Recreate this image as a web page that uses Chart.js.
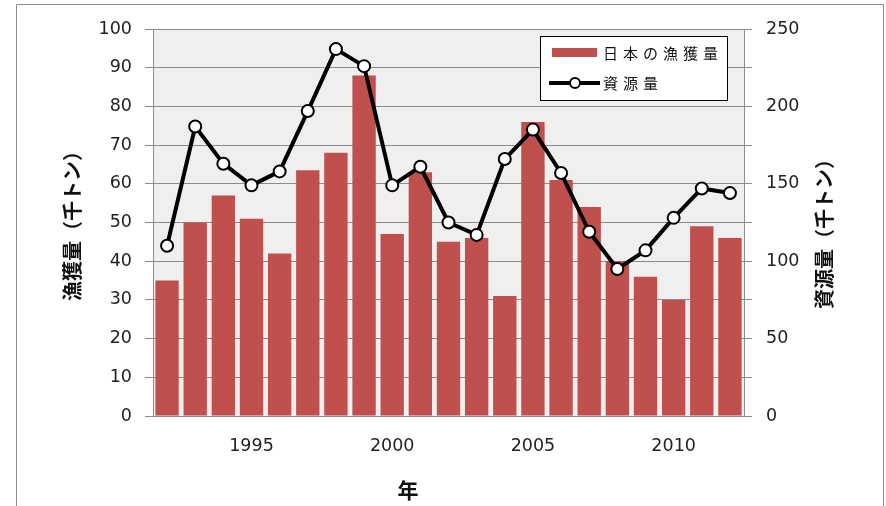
<!DOCTYPE html>
<html>
<head>
<meta charset="utf-8">
<script src="https://cdn.jsdelivr.net/npm/chart.js@4/dist/chart.umd.min.js"></script>
<style>
html,body{margin:0;padding:0;background:#fff;}
#wrap{width:886px;height:506px;position:relative;}
</style>
</head>
<body>
<div id="wrap"><canvas id="c" width="886" height="506"></canvas></div>
<script>
const years = [1992,1993,1994,1995,1996,1997,1998,1999,2000,2001,2002,2003,2004,2005,2006,2007,2008,2009,2010,2011,2012];
const catchJapan = [35,50,57,51,42,63.5,68,88,47,63,45,46,31,76,61,54,40,36,30,49,46];
const stockSize = [110,187,163,149,158,197,237,226,149,161,125,117,166,185,157,119,95,107,128,147,144];
const leftTicks = [0,10,20,30,40,50,60,70,80,90,100];
const rightTicks = [0,50,100,150,200,250];
const xLabelYears = [1995,2000,2005,2010];
const seriesNames = ['日本の漁獲量','資源量'];
const leftTitle = '漁獲量（千トン）';
const rightTitle = '資源量（千トン）';
const xTitle = '年';

const BAR = '#c0504d';
const GRID = '#8c8c8c';
const TICKFONT = {family:'"DejaVu Sans", sans-serif', size:17.5};
const CJK = '"Noto Sans CJK JP", "Noto Sans", sans-serif';

const decor = {
  id:'decor',
  beforeDraw(chart){
    const {ctx, chartArea:a} = chart;
    ctx.save();
    ctx.fillStyle = '#efefef';
    ctx.fillRect(a.left, a.top, a.right-a.left, a.bottom-a.top);
    ctx.restore();
  },
  afterDraw(chart){
    const {ctx} = chart;
    ctx.save();
    ctx.strokeStyle = '#8c8c8c';
    ctx.lineWidth = 1;
    ctx.beginPath();
    ctx.moveTo(16.5, 520); ctx.lineTo(16.5, 4.5); ctx.lineTo(883.5, 4.5); ctx.lineTo(883.5, 520);
    ctx.stroke();
    ctx.fillStyle = '#111';
    ctx.textAlign = 'center';
    ctx.textBaseline = 'middle';
    ctx.font = 'bold 20px ' + CJK;
    ctx.save(); ctx.translate(72, 221); ctx.rotate(-Math.PI/2); ctx.fillText(leftTitle, 0, 0); ctx.restore();
    ctx.save(); ctx.translate(824, 229); ctx.rotate(-Math.PI/2); ctx.fillText(rightTitle, 0, 0); ctx.restore();
    ctx.font = 'bold 21px ' + CJK;
    ctx.fillText(xTitle, 408, 490);
    const lx = 540.5, ly = 36.5, lw = 187, lh = 64;
    ctx.fillStyle = '#fff';
    ctx.fillRect(lx, ly, lw, lh);
    ctx.strokeStyle = '#000';
    ctx.lineWidth = 1;
    ctx.strokeRect(lx, ly, lw, lh);
    ctx.fillStyle = BAR;
    ctx.fillRect(552, 48, 45, 9);
    ctx.strokeStyle = '#000';
    ctx.lineWidth = 4;
    ctx.beginPath(); ctx.moveTo(549, 83); ctx.lineTo(600, 83); ctx.stroke();
    ctx.beginPath(); ctx.arc(575, 83, 5, 0, Math.PI*2);
    ctx.fillStyle = '#fff'; ctx.fill();
    ctx.lineWidth = 2; ctx.stroke();
    ctx.fillStyle = '#111';
    ctx.font = '15px ' + CJK;
    ctx.textAlign = 'left';
    const drawSpaced = (s, x, y) => { [...s].forEach((ch,i)=>ctx.fillText(ch, x + i*20, y)); };
    drawSpaced(seriesNames[0], 603, 53);
    drawSpaced(seriesNames[1], 603, 83);
    ctx.restore();
  }
};

new Chart(document.getElementById('c'), {
  data: {
    labels: years,
    datasets: [
      {type:'line', label:seriesNames[1], data:stockSize, yAxisID:'y1', order:0,
       borderColor:'#000', borderWidth:4, tension:0,
       pointRadius:6, pointBackgroundColor:'#fff', pointBorderColor:'#000', pointBorderWidth:2},
      {type:'bar', label:seriesNames[0], data:catchJapan, yAxisID:'y', order:1,
       backgroundColor:BAR, barPercentage:0.83, categoryPercentage:1}
    ]
  },
  options: {
    responsive:false,
    animation:false,
    events:[],
    layout:{padding:{top:29,left:0,right:0,bottom:0}},
    plugins:{legend:{display:false}, tooltip:{enabled:false}},
    scales:{
      x:{
        type:'category',
        grid:{display:false, drawTicks:false},
        border:{display:true, color:GRID},
        ticks:{color:'#222', font:TICKFONT, padding:20, autoSkip:false, maxRotation:0,
          callback:function(v,i){ const y = years[i]; return xLabelYears.includes(y) ? String(y) : ''; }},
        afterFit(s){ s.height = 90; }
      },
      y:{
        position:'left', min:0, max:100,
        afterBuildTicks(s){ s.ticks = leftTicks.map(v=>({value:v})); },
        grid:{color:GRID, tickLength:8, drawTicks:true},
        border:{display:true, color:GRID},
        ticks:{color:'#222', font:TICKFONT, padding:13},
        afterFit(s){ s.width = 153; }
      },
      y1:{
        position:'right', min:0, max:250,
        afterBuildTicks(s){ s.ticks = [0,25,50,75,100,125,150,175,200,225,250].map(v=>({value:v})); },
        grid:{drawOnChartArea:false, color:GRID, tickLength:8},
        border:{display:true, color:GRID},
        ticks:{color:'#222', font:TICKFONT, padding:14,
          callback:function(v){ return rightTicks.includes(v) ? String(v) : ''; }},
        afterFit(s){ s.width = 886-744; }
      }
    }
  },
  plugins:[decor]
});
</script>
</body>
</html>
